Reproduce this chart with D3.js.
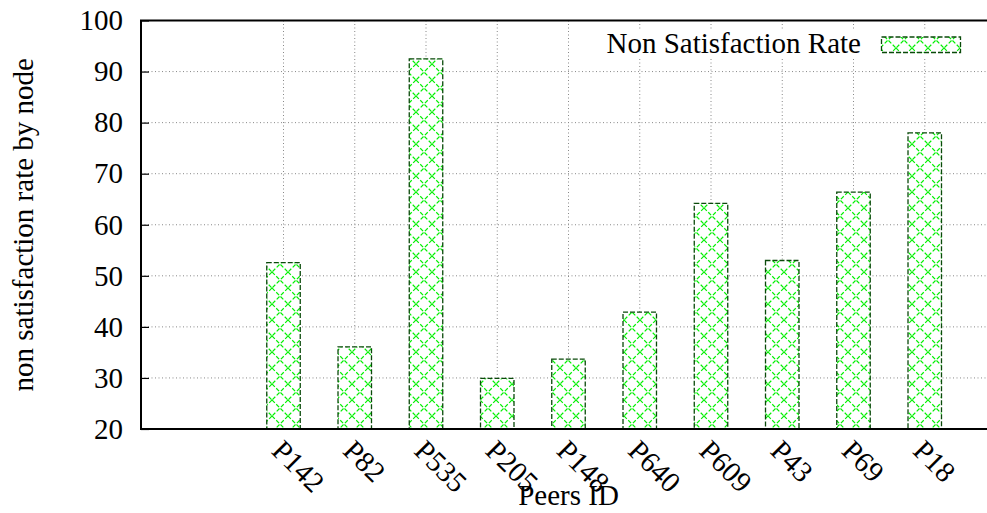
<!DOCTYPE html>
<html>
<head>
<meta charset="utf-8">
<script src="https://cdn.jsdelivr.net/npm/d3@7"></script>
<style>
  body { margin: 0; background: #fff; }
</style>
</head>
<body>
<svg id="chart" width="987" height="513"></svg>
<script>
const peers = ["P142", "P82", "P535", "P205", "P148", "P640", "P609", "P43", "P69", "P18"];
const rates = [52.6, 36.1, 92.5, 29.9, 33.7, 42.9, 64.2, 53.0, 66.4, 78.0];
const yTicks = [20, 30, 40, 50, 60, 70, 80, 90, 100];
const seriesName = "Non Satisfaction Rate";

const FONT = "'Liberation Serif', 'Times New Roman', serif";
const FS = 29;

const svg = d3.select("#chart");
const plotLeft = 141, plotRight = 996, plotTop = 20.5, plotBottom = 429;

// x positions: peers sit at 2..11 on a 0..12 axis
const x = d3.scaleLinear().domain([0, 12]).range([plotLeft, plotRight]);
const y = d3.scaleLinear().domain([20, 100]).range([plotBottom, plotTop]);
const pos = (d, i) => i + 2;
const boxW = 0.47;

// crosshatch pattern
const defs = svg.append("defs");
const pat = defs.append("pattern")
  .attr("id", "hatch")
  .attr("patternUnits", "userSpaceOnUse")
  .attr("width", 16)
  .attr("height", 16);
pat.append("rect").attr("width", 16).attr("height", 16).attr("fill", "#fff");
pat.append("path")
  .attr("d", "M0,0L16,16M16,0L0,16")
  .attr("stroke", "#00f000")
  .attr("stroke-width", 1.2)
  .attr("stroke-dasharray", "4,2")
  .attr("fill", "none");

// grid
const grid = svg.append("g").attr("stroke", "#888").attr("stroke-width", 1).attr("stroke-dasharray", "1,2.5");
grid.selectAll(".hg")
  .data(yTicks)
  .enter()
  .append("line")
  .attr("x1", plotLeft)
  .attr("x2", 987)
  .attr("y1", (d) => y(d))
  .attr("y2", (d) => y(d));
grid.selectAll(".vg")
  .data(peers)
  .enter()
  .append("line")
  .attr("x1", (d, i) => x(pos(d, i)))
  .attr("x2", (d, i) => x(pos(d, i)))
  .attr("y1", plotTop)
  .attr("y2", plotBottom);

// bars
svg.append("g")
  .selectAll("rect")
  .data(rates)
  .enter()
  .append("rect")
  .attr("x", (d, i) => x(i + 2 - boxW / 2))
  .attr("width", x(boxW) - x(0))
  .attr("y", (d) => y(d))
  .attr("height", (d) => plotBottom - y(d))
  .attr("fill", "url(#hatch)")
  .attr("stroke", "#0a4a0a")
  .attr("stroke-width", 1.3)
  .attr("stroke-dasharray", "5,2");

// legend (opaque box)
const legend = svg.append("g");
legend.append("rect")
  .attr("x", 596).attr("y", 30).attr("width", 400).attr("height", 29)
  .attr("fill", "#fff");
legend.append("text")
  .attr("x", 861).attr("y", 53)
  .attr("text-anchor", "end")
  .text(seriesName);
legend.append("rect")
  .attr("x", 881.5).attr("y", 37).attr("width", 79).attr("height", 15.5)
  .attr("fill", "url(#hatch)")
  .attr("stroke", "#0a4a0a")
  .attr("stroke-width", 1.3)
  .attr("stroke-dasharray", "5,2");

// y axis with inward ticks
const yAxis = svg.append("g")
  .attr("transform", `translate(${plotLeft},0)`)
  .call(d3.axisLeft(y).tickValues(yTicks).tickSize(-8).tickPadding(18));
yAxis.attr("font-family", null).attr("font-size", null);
yAxis.select(".domain").remove();
yAxis.selectAll(".tick line").attr("stroke", "#000").attr("stroke-width", 1.2);
yAxis.selectAll(".tick text").attr("fill", "#000");

// x tick labels rotated
svg.append("g")
  .selectAll("text")
  .data(peers)
  .enter()
  .append("text")
  .attr("transform", (d, i) => `translate(${x(pos(d, i)) - 6},${plotBottom + 16}) rotate(45)`)
  .attr("dy", "0.35em")
  .text((d) => d);

// border: left, top, bottom
svg.append("path")
  .attr("d", `M987,${plotTop}H${plotLeft}V${plotBottom}H987`)
  .attr("fill", "none")
  .attr("stroke", "#000")
  .attr("stroke-width", 2);

// axis titles
svg.append("text")
  .attr("x", (plotLeft + plotRight) / 2)
  .attr("y", 505)
  .attr("text-anchor", "middle")
  .text("Peers ID");
svg.append("text")
  .attr("transform", `translate(33,${(plotTop + plotBottom) / 2}) rotate(-90)`)
  .attr("text-anchor", "middle")
  .text("non satisfaction rate by node");

svg.selectAll("text")
  .style("font-family", FONT)
  .style("font-size", FS + "px")
  .attr("fill", "#000");
</script>
</body>
</html>
